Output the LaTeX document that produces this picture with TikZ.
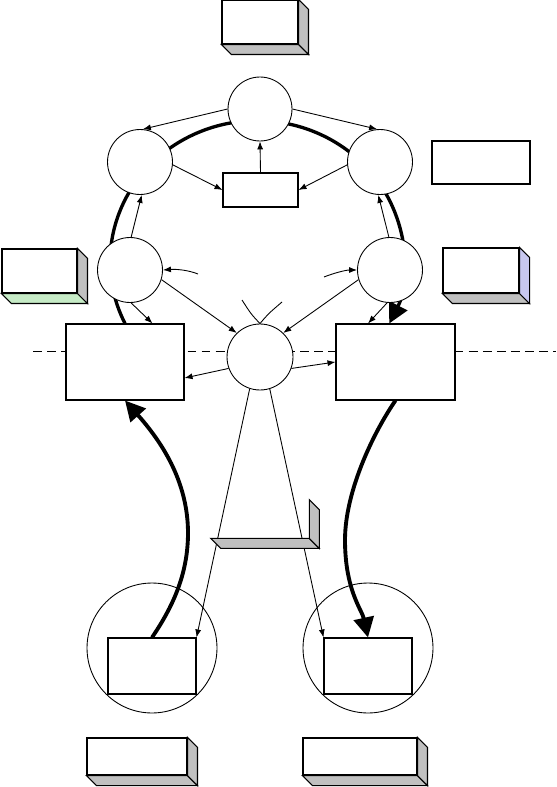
\documentclass[tikz,border=0pt]{standalone}
\usepackage{tikz}
\usetikzlibrary{arrows.meta, backgrounds}
\definecolor{shade}{RGB}{192,192,192}
\definecolor{mint}{RGB}{198,235,198}
\definecolor{lilac}{RGB}{200,200,240}
\tikzstyle{block} = [draw, rectangle, fill=white, inner sep=0pt, line width=0.6pt]
\tikzstyle{state} = [draw, circle, fill=white, inner sep=0pt, line width=0.5pt]
\tikzstyle{arrow} = [line width=0.5pt, -{Latex[length=1.6mm, width=1.2mm]}]
\tikzstyle{flow} = [line width=2.2pt, -{Triangle[length=4mm, width=4mm]}]
\tikzstyle{cutline} = [line width=0.5pt, dash pattern=on 5pt off 3pt]
% bottom and right faces of a raised box
\newcommand{\extrude}[3]{%
  \filldraw[fill=#2, line width=0.6pt] (#1.south west) -- ++(10,10) -- ([shift={(10,10)}]#1.south east) -- (#1.south east) -- cycle;
  \filldraw[fill=#3, line width=0.6pt] (#1.north east) -- ++(10,10) -- ([shift={(10,10)}]#1.south east) -- (#1.south east) -- cycle;}

\begin{document}
\begin{tikzpicture}[x=0.02cm, y=-0.02cm]
    \useasboundingbox (0,0) rectangle (556,787);

    % Cut line
    \draw [cutline] (33,351) -- (556,351);

    % Circles
    \node (ctop) [state, minimum size=1.28cm] at (260,109) {};
    \node (cleft) [state, minimum size=1.3cm] at (140,162) {};
    \node (cright) [state, minimum size=1.3cm] at (380,162) {};
    \node (cmidl) [state, minimum size=1.3cm] at (130,270) {};
    \node (cmidr) [state, minimum size=1.3cm] at (390,270) {};
    \node (ccenter) [state, minimum size=1.32cm] at (260,357) {};
    \node (cbotl) [state, minimum size=2.6cm] at (152,648) {};
    \node (cbotr) [state, minimum size=2.6cm] at (368,648) {};

    % Blocks
    \node (mrect) [block, minimum width=1.5cm, minimum height=0.68cm] at (260.5,190) {};
    \node (infobox) [block, minimum width=1.96cm, minimum height=0.86cm] at (481,162.5) {};
    \node (lrect) [block, minimum width=2.36cm, minimum height=1.52cm] at (125,362) {};
    \node (rrect) [block, minimum width=2.38cm, minimum height=1.52cm] at (395.5,362) {};
    \node (rbotl) [block, minimum width=1.76cm, minimum height=1.12cm] at (152,666) {};
    \node (rbotr) [block, minimum width=1.76cm, minimum height=1.12cm] at (368,666) {};

    % Raised boxes
    \node (topbox) [block, minimum width=1.52cm, minimum height=0.88cm] at (260,22) {};
    \extrude{topbox}{shade}{shade}
    \node (greenbox) [block, minimum width=1.5cm, minimum height=0.88cm] at (39.5,271) {};
    \extrude{greenbox}{mint}{shade}
    \node (lilacbox) [block, minimum width=1.52cm, minimum height=0.9cm] at (481,270.5) {};
    \extrude{lilacbox}{shade}{lilac}
    \node (boxbotl) [block, minimum width=2cm, minimum height=0.74cm] at (137,756.5) {};
    \extrude{boxbotl}{shade}{shade}
    \node (boxbotr) [block, minimum width=2.28cm, minimum height=0.74cm] at (360,756.5) {};
    \extrude{boxbotr}{shade}{shade}

    % Arrows
    \draw [arrow] (ctop.180) -- (cleft.85);
    \draw [arrow] (ctop.0) -- (cright.95);
    \draw [arrow] (cleft.-5) -- (mrect.west);
    \draw [arrow] (cright.185) -- (mrect.east);
    \draw [arrow] (mrect.north) -- (ctop.south);
    \draw [arrow] (cmidl.88) -- (cleft.-87);
    \draw [arrow] (cmidr.92) -- (cright.-93);
    \draw [arrow] (cmidl.-88) -- ([xshift=0.55cm]lrect.north);
    \draw [arrow] (cmidr.-95) -- ([xshift=-0.55cm]rrect.north);
    \draw [arrow] (cmidl.-17) -- (ccenter.134);
    \draw [arrow] (cmidr.197) -- (ccenter.46);
    \draw [arrow] (ccenter.200) -- ([yshift=-0.32cm]lrect.east);
    \draw [arrow] (ccenter.-20) -- (rrect.west);
    \draw [arrow] (ccenter.-108) -- (rbotl.north east);
    \draw [arrow] (ccenter.-73) -- (rbotr.north west);

    % Short strokes
    \coordinate (hintl) at (198,274);
    \coordinate (hintr) at (324,277);
    \coordinate (forkl) at (242,300);
    \coordinate (forkr) at (282,302);
    \draw [arrow] (hintl) .. controls (188,270) and (176,269) .. (cmidl.east);
    \draw [arrow] (hintr) .. controls (334,273) and (346,270) .. (cmidr.west);
    \draw [line width=0.5pt] (ccenter.north) .. controls (251,314) .. (forkl);
    \draw [line width=0.5pt] (ccenter.north) .. controls (268,314) .. (forkr);

    % Slab
    \node (slab) [rectangle, inner sep=0pt, minimum width=1.96cm, minimum height=0.76cm] at (260,519) {};
    \extrude{slab}{shade}{shade}

    % Thick flows
    \begin{pgfonlayer}{background}
    \draw [flow, line width=1.9pt] (lrect.north) arc[start angle=154, end angle=386, x radius=147, y radius=141];
    \end{pgfonlayer}
    \draw [flow] (rbotl.north) .. controls (172,608) and (188,575) .. (188,533)
        .. controls (188,480) and (160,440) .. (lrect.south);
    \draw [flow] (rrect.south) .. controls (375,430) and (345,490) .. (345,540)
        .. controls (345,590) and (362,610) .. (rbotr.north);

\end{tikzpicture}
\end{document}
